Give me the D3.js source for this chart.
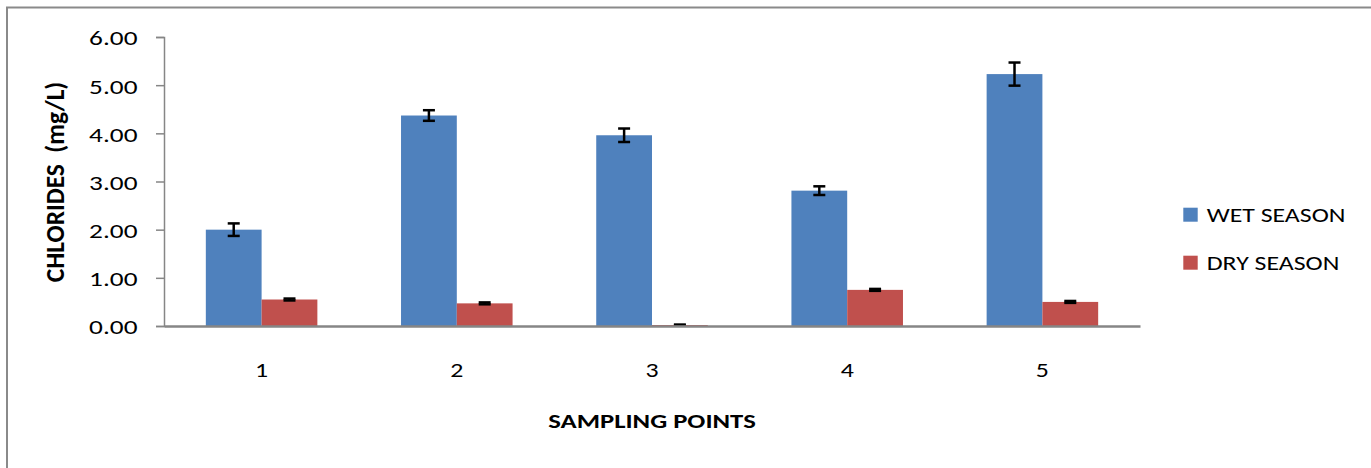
<!DOCTYPE html>
<html>
<head>
<meta charset="utf-8">
<script src="https://cdn.jsdelivr.net/npm/d3@7"></script>
<style>
  html, body { margin: 0; padding: 0; background: #fff; }
  svg { display: block; }
  text { font-family: Carlito, Calibri, Lato, "Open Sans", sans-serif; fill: #000; }
</style>
</head>
<body>
<svg id="chart" width="1371" height="468"></svg>
<script>
const categories = ["1", "2", "3", "4", "5"];
const seriesNames = ["WET SEASON", "DRY SEASON"];
const wetValues = [2.00, 4.37, 3.96, 2.81, 5.23];
const wetErrors = [0.13, 0.11, 0.14, 0.09, 0.24];
const dryValues = [0.55, 0.47, 0.02, 0.75, 0.50];
const dryErrors = [0.02, 0.02, 0.01, 0.02, 0.02];
const yTicks = [0, 1, 2, 3, 4, 5, 6];
const colors = ["#4F81BD", "#C0504D"];

const SX = 1.23;        // horizontal stretch of the original picture
const FONT = "Carlito, Calibri, Lato, 'Open Sans', sans-serif";

const svg = d3.select("#chart");

// outer frame (top & left visible)
svg.append("rect")
  .attr("x", 7).attr("y", 7.5)
  .attr("width", 1400).attr("height", 500)
  .attr("fill", "none").attr("stroke", "#8a8a8a").attr("stroke-width", 2);

const mLeft = 164, mRight = 1140, mTop = 37, mBottom = 326;

const x = d3.scaleBand().domain(categories).range([mLeft, mRight])
  .paddingInner(1.5 / 3.5).paddingOuter(0.75 / 3.5);
const xs = d3.scaleBand().domain(seriesNames).range([0, x.bandwidth()]);
const y = d3.scaleLinear().domain([0, 6]).range([mBottom, mTop]);

const data = categories.map((c, i) => ({
  cat: c,
  vals: [
    { s: seriesNames[0], v: wetValues[i], e: wetErrors[i], c: colors[0] },
    { s: seriesNames[1], v: dryValues[i], e: dryErrors[i], c: colors[1] }
  ]
}));

// bars
const groups = svg.append("g").selectAll("g").data(data).join("g")
  .attr("transform", d => `translate(${x(d.cat)},0)`);
groups.selectAll("rect").data(d => d.vals).join("rect")
  .attr("x", d => xs(d.s))
  .attr("y", d => y(d.v))
  .attr("width", xs.bandwidth())
  .attr("height", d => y(0) - y(d.v))
  .attr("fill", d => d.c);

// error bars
const capW = 12;
const eb = groups.selectAll("g.err").data(d => d.vals).join("g").attr("class", "err")
  .attr("stroke", "#000").attr("stroke-width", 2.5);
const cx = d => xs(d.s) + xs.bandwidth() / 2;
eb.append("line")
  .attr("x1", cx).attr("x2", cx)
  .attr("y1", d => y(d.v + d.e)).attr("y2", d => y(d.v - d.e));
eb.append("line")
  .attr("x1", d => cx(d) - capW / 2).attr("x2", d => cx(d) + capW / 2)
  .attr("y1", d => y(d.v + d.e)).attr("y2", d => y(d.v + d.e));
eb.append("line")
  .attr("x1", d => cx(d) - capW / 2).attr("x2", d => cx(d) + capW / 2)
  .attr("y1", d => y(d.v - d.e)).attr("y2", d => y(d.v - d.e));

// y axis
const yAxis = d3.axisLeft(y).tickValues(yTicks).tickFormat(d3.format(".2f"))
  .tickSize(8).tickPadding(19);
const gy = svg.append("g").attr("transform", `translate(${mLeft},0)`).call(yAxis);
gy.select(".domain").attr("stroke", "#868686").attr("stroke-width", 1.5);
gy.selectAll(".tick line").attr("stroke", "#868686").attr("stroke-width", 1.5);
gy.selectAll(".tick text")
  .attr("x", 0).attr("dy", "0.33em")
  .attr("transform", `translate(-26.5,1) scale(1.3,1)`)
  .style("font-size", "21px").style("font-family", FONT).attr("fill", "#000");

// x axis
const xAxis = d3.axisBottom(x).tickSize(0);
const gx = svg.append("g").attr("transform", `translate(0,${mBottom})`).call(xAxis);
gx.select(".domain").attr("stroke", "#868686").attr("stroke-width", 2.5);
gx.selectAll(".tick text")
  .attr("y", 0).attr("dy", 0)
  .attr("transform", `translate(0,50.7) scale(${SX},1)`)
  .style("font-size", "21px").style("font-family", FONT).attr("fill", "#000");

// axis titles
svg.append("text")
  .attr("transform", `translate(652,428.3) scale(1.27,1)`)
  .attr("text-anchor", "middle")
  .style("font-size", "21px").style("font-weight", "bold")
  .text("SAMPLING POINTS");

svg.append("text")
  .attr("transform", `translate(63.5,182) rotate(-90) scale(1.21,${SX})`)
  .attr("text-anchor", "middle")
  .attr("xml:space", "preserve")
  .style("white-space", "pre")
  .style("font-size", "21px").style("font-weight", "bold")
  .text("CHLORIDES  (mg/L)");

// legend
const legend = svg.append("g").selectAll("g").data(seriesNames).join("g")
  .attr("transform", (d, i) => `translate(1183.3,${207.7 + i * 48})`);
legend.append("rect").attr("width", 14.4).attr("height", 14)
  .attr("fill", (d, i) => colors[i]);
legend.append("text")
  .attr("transform", `translate(23.4,14) scale(${SX},1)`)
  .style("font-size", "21px").text(d => d);
</script>
</body>
</html>
